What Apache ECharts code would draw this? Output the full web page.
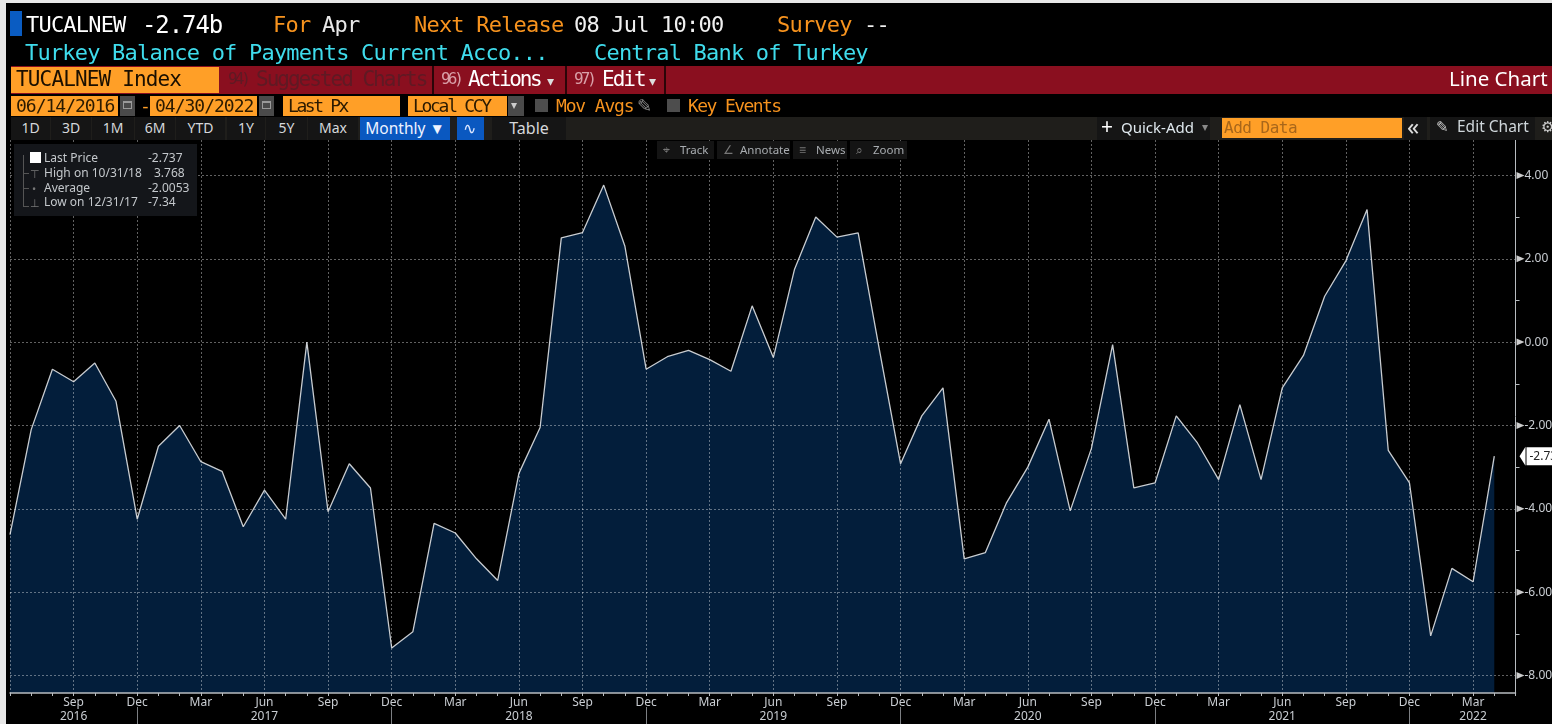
<!DOCTYPE html>
<html>
<head>
<meta charset="utf-8">
<title>TUCALNEW Index</title>
<script src="https://cdn.jsdelivr.net/npm/echarts@6/dist/echarts.min.js"></script>
<style>
html, body { margin: 0; padding: 0; background: #000; overflow: hidden; }
#page { position: relative; width: 1552px; height: 724px; background: #000; overflow: hidden; }
#chart { position: absolute; left: 0; top: 0; width: 1552px; height: 724px; }
#chrome { position: absolute; left: 0; top: 0; width: 1552px; height: 724px; pointer-events: none; }
#chrome div { position: absolute; white-space: nowrap; box-sizing: border-box; }
.mono { font-family: "DejaVu Sans Mono", monospace; }
.sans { font-family: "Noto Sans", sans-serif; }
</style>
</head>
<body>
<div id="page">
  <div id="chart"></div>
  <div id="chrome"></div>
</div>
<script>
// monthly current account, USD bn, Jun 2016 to Apr 2022
var categories = [
    "Jun 2016","Jul 2016","Aug 2016","Sep 2016","Oct 2016","Nov 2016","Dec 2016",
    "Jan 2017","Feb 2017","Mar 2017","Apr 2017","May 2017","Jun 2017","Jul 2017","Aug 2017","Sep 2017","Oct 2017","Nov 2017","Dec 2017",
    "Jan 2018","Feb 2018","Mar 2018","Apr 2018","May 2018","Jun 2018","Jul 2018","Aug 2018","Sep 2018","Oct 2018","Nov 2018","Dec 2018",
    "Jan 2019","Feb 2019","Mar 2019","Apr 2019","May 2019","Jun 2019","Jul 2019","Aug 2019","Sep 2019","Oct 2019","Nov 2019","Dec 2019",
    "Jan 2020","Feb 2020","Mar 2020","Apr 2020","May 2020","Jun 2020","Jul 2020","Aug 2020","Sep 2020","Oct 2020","Nov 2020","Dec 2020",
    "Jan 2021","Feb 2021","Mar 2021","Apr 2021","May 2021","Jun 2021","Jul 2021","Aug 2021","Sep 2021","Oct 2021","Nov 2021","Dec 2021",
    "Jan 2022","Feb 2022","Mar 2022","Apr 2022","May 2022"
]
var lastPx = [
    -4.62,-2.1,-0.65,-0.95,-0.5,-1.42,-4.25,
    -2.5,-2.0,-2.87,-3.1,-4.43,-3.55,-4.25,0.0,-4.07,-2.92,-3.5,-7.34,
    -6.95,-4.35,-4.58,-5.2,-5.72,-3.15,-2.05,2.5,2.63,3.768,2.3,-0.65,
    -0.35,-0.2,-0.42,-0.7,0.87,-0.37,1.75,3.0,2.52,2.62,-0.18,-2.92,
    -1.77,-1.1,-5.2,-5.05,-3.85,-3.0,-1.85,-4.05,-2.55,-0.06,-3.5,-3.38,
    -1.77,-2.42,-3.3,-1.5,-3.3,-1.1,-0.32,1.1,1.95,3.18,-2.6,-3.38,
    -7.05,-5.43,-5.75,-2.737,null
]
var majorTicks = [-8,-6,-4,-2,0,2,4]
var minorTicks = [-7,-5,-3,-1,1,3]
var yearLabelAt = {"Sep 2016":"2016","Jun 2017":"2017","Jun 2018":"2018","Jun 2019":"2019","Jun 2020":"2020","Jun 2021":"2021","Mar 2022":"2022"}
var lastLabel = "-2.73"
var lastValue = -2.737

var edgeCategory = categories[categories.length - 1]
var axisText = "#c9cdd2"
var gridLine = "rgba(255,255,255,0.38)"

var chart = echarts.init(document.getElementById("chart"), null, {renderer: "canvas"})
chart.setOption({
    backgroundColor: "#000",
    animation: false,
    grid: {left: 10, right: 36.5, top: 140, bottom: 31, outerBoundsMode: "none"},
    xAxis: [
        {
            type: "category",
            data: categories,
            boundaryGap: false,
            z: 3,
            axisLine: {onZero: false, lineStyle: {color: "#b8bcc0", width: 1.5}},
            axisTick: {interval: 0, length: 3, lineStyle: {color: "#b8bcc0"}},
            axisLabel: {
                color: axisText,
                fontFamily: "Noto Sans",
                fontSize: 12,
                margin: 4,
                interval: function(i) { return i > 0 && i % 3 === 0 },
                formatter: function(v) { return v.split(" ")[0] }
            },
            splitLine: {
                show: true,
                interval: function(i) { return i % 3 === 0 },
                lineStyle: {color: gridLine, type: [2, 2], width: 1}
            }
        },
        {
            type: "category",
            data: categories,
            boundaryGap: false,
            position: "bottom",
            offset: 14,
            axisLine: {show: false, onZero: false},
            axisTick: {
                length: 18,
                interval: function(i, v) { return v.indexOf("Dec") === 0 },
                lineStyle: {color: "#7c7f83"}
            },
            axisLabel: {
                color: axisText,
                fontFamily: "Noto Sans",
                fontSize: 12,
                margin: 4,
                interval: function(i, v) { return v in yearLabelAt },
                formatter: function(v) { return yearLabelAt[v] }
            }
        }
    ],
    yAxis: [
        {
            type: "value",
            position: "right",
            min: -8.42,
            max: 4.85,
            z: 3,
            axisLine: {show: true, onZero: false, lineStyle: {color: "#b8bcc0", width: 1}},
            axisTick: {show: false, customValues: majorTicks},
            axisLabel: {
                color: axisText,
                fontFamily: "Noto Sans",
                fontSize: 12,
                margin: 9,
                padding: [2, 0, 0, 0],
                customValues: majorTicks,
                formatter: function(v) { return v.toFixed(2) }
            },
            splitLine: {show: true, lineStyle: {color: gridLine, type: [2, 2], width: 1}}
        },
        {
            type: "value",
            position: "right",
            min: -8.42,
            max: 4.85,
            axisLine: {show: false, onZero: false},
            axisTick: {show: true, length: 4, customValues: minorTicks, lineStyle: {color: "#b8bcc0"}},
            axisLabel: {show: false},
            splitLine: {show: false}
        }
    ],
    series: [
        {
            name: "Last Price",
            type: "line",
            data: lastPx,
            symbol: "none",
            z: 2,
            lineStyle: {color: "#c8ccd0", width: 1.3},
            areaStyle: {color: "#031e3b", opacity: 1, origin: "start"}
        },
        {
            // little arrow heads on the price axis
            type: "scatter",
            data: majorTicks.map(function(v) { return [edgeCategory, v] }),
            symbol: "triangle",
            symbolSize: [7, 8],
            symbolRotate: -90,
            symbolOffset: [5, 0],
            clip: false,
            z: 4,
            itemStyle: {color: "#fff"}
        },
        {
            // last value tag
            type: "scatter",
            data: [[edgeCategory, lastValue]],
            symbol: "triangle",
            symbolSize: [19, 6],
            symbolRotate: 90,
            symbolOffset: [7, 0],
            clip: false,
            z: 5,
            itemStyle: {color: "#fff", opacity: 1},
            label: {
                show: true,
                position: "right",
                distance: 1,
                formatter: lastLabel,
                backgroundColor: "#fff",
                color: "#222",
                fontFamily: "Noto Sans",
                fontSize: 12,
                lineHeight: 17,
                padding: [1, 4, 0, 3],
                opacity: 1
            }
        }
    ]
})

// terminal chrome round the chart
var ORANGE = "#ff9f27", AMBER = "#f7931e", CYAN = "#3fdcec", RED = "#8a0f1f"
var chrome = document.getElementById("chrome")
function box(x, y, w, h, bg) {
    var d = document.createElement("div")
    d.style.cssText = "left:" + x + "px;top:" + y + "px;width:" + w + "px;height:" + h + "px;background:" + bg
    chrome.appendChild(d)
    return d
}
function text(str, x, y, size, color, cls, spacing) {
    var d = document.createElement("div")
    d.className = cls || "mono"
    d.textContent = str
    d.style.cssText = "left:" + x + "px;top:" + y + "px;font-size:" + size + "px;line-height:" + size + "px;color:" + color +
        (spacing ? ";letter-spacing:" + spacing + "px" : "")
    chrome.appendChild(d)
    return d
}

// window border
box(0, 0, 1552, 3, "#e8e8e8")
box(0, 0, 6, 724, "#e8e8e8")

// title rows
box(10, 11, 12, 25, "#0a5cc2")
var rowA = [["TUCALNEW",26,"#fff"],["For",273,AMBER],["Apr",322,"#e8e8e8"],
    ["Next Release",414,AMBER],["08 Jul 10:00",574,"#f0f0f0"],["Survey",777,AMBER],["--",864,"#f0f0f0"]]
rowA.forEach(function(r) { text(r[0], r[1], 14, 22, r[2], "mono", -0.8) })
text("-2.74b", 142, 13, 24, "#fff", "mono", -1.1)
text("Turkey Balance of Payments Current Acco...", 25, 42, 22, CYAN, "mono", -0.8)
text("Central Bank of Turkey", 594, 42, 22, CYAN, "mono", -0.8)

// red command bar
box(11, 66, 1541, 28, RED)
box(11, 67, 208, 26, ORANGE)
text("TUCALNEW Index", 16, 69, 21, "#1a0f00", "mono", -0.85)
box(432, 66, 2, 28, "#2a0508")
box(565, 66, 2, 28, "#2a0508")
box(664, 66, 2, 28, "#2a0508")
text("94)", 228, 71, 16, "#5f1a24", "mono", -3)
text("Suggested Charts", 256, 69, 21, "#5f1a24", "mono", -2)
text("96)", 441, 71, 16, "#d9a0a8", "mono", -3)
text("Actions", 468, 69, 21, "#fff", "mono", -2.3)
text("\u25BE", 547, 74, 14, "#ddd", "sans")
text("97)", 574, 71, 16, "#d9a0a8", "mono", -3)
text("Edit", 602, 69, 21, "#fff", "mono", -2)
text("\u25BE", 649, 74, 14, "#ddd", "sans")
text("Line Chart", 1449, 68, 20.5, "#fff", "sans")

// date row
function input(x, w, label, spacing) {
    box(x, 96, w, 20, ORANGE)
    text(label, x + 5, 97, 18, "#2b1a00", "mono", spacing)
}
function calendar(x) {
    box(x, 96, 15, 20, "#4a4a4a")
    box(x + 3, 101, 9, 8, "#9a9a9a")
    box(x + 4, 103, 7, 5, "#4a4a4a")
}
input(11, 107, "06/14/2016", -1)
calendar(120)
text("-", 140, 97, 18, ORANGE, "mono")
input(150, 107, "04/30/2022", -1)
calendar(259)
input(283, 117, "Last Px", -2.4)
input(408, 99, "Local CCY", -2.3)
box(508, 96, 16, 20, "#4a4a4a")
text("\u25BE", 511, 99, 12, "#ccc", "sans")
box(535, 99, 13, 13, "#4d4d4d")
text("Mov Avgs", 556, 97, 18, AMBER, "mono", -1.15)
text("\u270E", 637, 96, 18, "#8a8a8a", "sans")
box(667, 99, 13, 13, "#4d4d4d")
text("Key Events", 688, 97, 18, AMBER, "mono", -1.6)

// period buttons
function button(label, x, w, bg, color, size) {
    var d = box(x, 117, w, 23, bg)
    d.className = "sans"
    d.textContent = label
    d.style.cssText += ";color:" + color + ";font-size:" + size + "px;line-height:22px;text-align:center"
}
box(11, 117, 1541, 23, "#1f1e1b")
var buttons = [["1D",11,39],["3D",51,40],["1M",92,42],["6M",135,40],["YTD",176,49],["1Y",227,38],["5Y",266,41],["Max",308,50]]
buttons.forEach(function(b) { button(b[0], b[1], b[2], "#151515", "#d5d8db", 14) })
button("Monthly \u25BC", 360, 90, "#0a58c0", "#eef3ff", 15.5)
box(457, 117, 27, 23, "#0a58c0")
text("\u223F", 463, 120, 16, "#dce6ff", "sans")
button("Table", 492, 74, "#151515", "#d5d8db", 16)

box(1097, 117, 113, 23, "#151515")
text("+", 1101, 116, 21, "#fff", "sans")
text("Quick-Add", 1121, 120, 15, "#dfe8ee", "sans")
text("\u25BE", 1202, 121, 12, "#888", "sans")
box(1222, 118, 180, 20, ORANGE)
text("Add Data", 1224, 120, 16, "#a8661a", "mono", -0.5)
box(1404, 117, 23, 23, "#151515")
text("\u00AB", 1407, 114, 24, "#ddd", "sans")
box(1430, 117, 105, 23, "#151515")
text("\u270E", 1436, 119, 15, "#ccc", "sans")
text("Edit Chart", 1457, 119, 15.5, "#cfd6da", "sans")
text("\u2699", 1541, 119, 15, "#ccc", "sans")

// chart toolbar
var tools = [["\u2316","Track",657,57],["\u2220","Annotate",717,73],["\u2261","News",793,54],["\u2315","Zoom",850,57]]
tools.forEach(function(t) {
    box(t[2], 141, t[3], 18, "#141414")
    text(t[0], t[2] + 6, 144, 12, "#777", "sans")
    text(t[1], t[2] + 23, 144, 11.5, "#a9adb1", "sans")
})

// legend panel
box(14, 144, 183, 72, "#14161a")
box(30, 152, 11, 11, "#fff")
var legendRows = [["Last Price","-2.737",152,148],["High on 10/31/18","3.768",167,154],["Average","-2.0053",182,148],["Low on 12/31/17","-7.34",196,148]]
legendRows.forEach(function(r) {
    text(r[0], 44, r[2], 12, "#c4c8cc", "sans")
    text(r[1], r[3], r[2], 12, "#c4c8cc", "sans")
})
box(23, 155, 1, 52, "#555")
box(23, 173, 6, 1, "#555")
box(23, 188, 6, 1, "#555")
box(23, 206, 6, 1, "#555")
text("\u22A4", 30, 168, 11, "#777", "sans")
text("\u2022", 32, 183, 11, "#777", "sans")
text("\u22A5", 30, 197, 11, "#777", "sans")
</script>
</body>
</html>
